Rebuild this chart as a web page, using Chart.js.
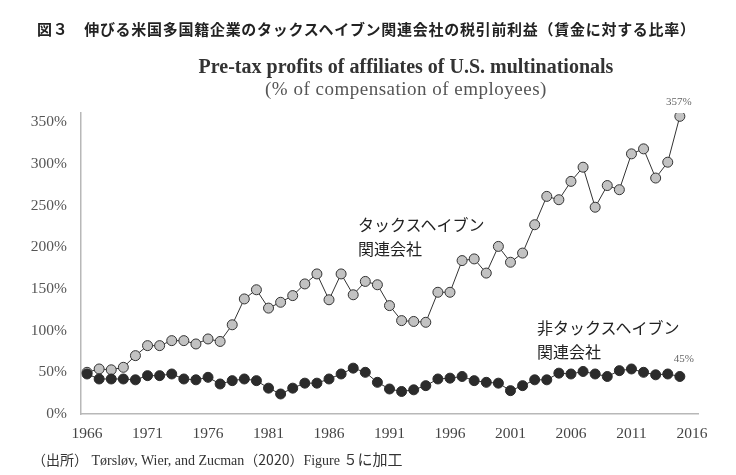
<!DOCTYPE html>
<html>
<head>
<meta charset="utf-8">
<script src="https://cdn.jsdelivr.net/npm/chart.js@4"></script>
<style>
  html, body { margin:0; padding:0; background:#fff; }
  #wrap { position:relative; width:736px; height:475px; overflow:hidden; }
  canvas { position:absolute; left:0; top:0; }
  .t { position:absolute; white-space:nowrap; }
  #hdr { left:37px; top:18px; font:bold 15px "Noto Sans CJK JP"; color:#222; letter-spacing:0.72px; }
  #ttl { left:156px; width:500px; top:55px; text-align:center; font:bold 20px "Liberation Serif"; color:#333; }
  #sub { left:156px; width:500px; top:78px; text-align:center; font:19px "Liberation Serif"; color:#555; letter-spacing:0.5px; }
  .lab { font:16px "Noto Sans CJK JP"; color:#222; line-height:24px; }
  #lab1 { left:358px; top:212px; }
  #lab2 { left:537px; top:315px; }
  #src { left:32px; top:448px; font:14px "Liberation Serif", "Noto Sans CJK JP"; color:#333; }
  #src .k { font-family:"Noto Sans CJK JP"; }
</style>
</head>
<body>
<div id="wrap">
  <canvas id="c" width="736" height="475"></canvas>
  <div class="t" id="hdr">図３　伸びる米国多国籍企業のタックスヘイブン関連会社の税引前利益（賃金に対する比率）</div>
  <div class="t" id="ttl">Pre-tax profits of affiliates of U.S. multinationals</div>
  <div class="t" id="sub">(% of compensation of employees)</div>
  <div class="t lab" id="lab1">タックスヘイブン<br>関連会社</div>
  <div class="t lab" id="lab2">非タックスヘイブン<br>関連会社</div>
  <div class="t" id="src"><span class="k">（出所）</span> Tørsløv, Wier, and Zucman<span class="k">（2020）</span>Figure ５<span class="k" style="font-size:15px">に加工</span></div>
</div>
<script>
const years = [1966,1967,1968,1969,1970,1971,1972,1973,1974,1975,1976,1977,1978,1979,1980,1981,1982,1983,1984,1985,1986,1987,1988,1989,1990,1991,1992,1993,1994,1995,1996,1997,1998,1999,2000,2001,2002,2003,2004,2005,2006,2007,2008,2009,2010,2011,2012,2013,2014,2015];
const havenValues = [50,54,53,56,70,82,82,88,88,84,90,87,107,138,149,127,134,142,156,168,137,168,143,159,155,130,112,111,110,146,146,184,186,169,201,182,193,227,261,257,279,296,248,274,269,312,318,283,302,357];
const nonHavenValues = [48,42,42,42,41,46,46,48,42,41,44,36,40,42,40,31,24,31,37,37,42,48,55,50,38,30,27,29,34,42,43,45,40,38,37,28,34,41,41,49,48,51,48,45,52,54,50,47,48,45];
const xTickValues = [1966,1971,1976,1981,1986,1991,1996,2001,2006,2011,2016];
const xTickLabels = ['1966','1971','1976','1981','1986','1991','1996','2001','2006','2011','2016'];
const yTickValues = [0,50,100,150,200,250,300,350];
const yTickLabels = ['0%','50%','100%','150%','200%','250%','300%','350%'];
const endLabels = ['357%','45%'];

const toXY = vals => years.map((y,i)=>({x:y, y:vals[i]}));

const endLabelPlugin = {
  id:'endLabels',
  afterDatasetsDraw(chart){
    const ctx = chart.ctx;
    ctx.save();
    ctx.font = '11px "Liberation Serif"';
    ctx.fillStyle = '#666';
    ctx.textAlign = 'center';
    ctx.textBaseline = 'middle';
    const offs = [[-1,-14],[4,-17]];
    chart.data.datasets.forEach((ds,di)=>{
      const meta = chart.getDatasetMeta(di);
      const last = meta.data[meta.data.length-1];
      const k = ds.labelIndex;
      ctx.fillText(endLabels[k], last.x + offs[k][0], last.y + offs[k][1]);
    });
    ctx.restore();
  }
};

new Chart(document.getElementById('c'), {
  type:'line',
  data:{
    datasets:[
      {
        label:'非タックスヘイブン関連会社',
        data: toXY(nonHavenValues),
        labelIndex:1,
        order:1,
        borderColor:'#333',
        borderWidth:1,
        pointRadius:5,
        pointBorderWidth:1,
        pointBackgroundColor:'#2b2b2b',
        pointBorderColor:'#2b2b2b',
        tension:0
      },
      {
        label:'タックスヘイブン関連会社',
        data: toXY(havenValues),
        labelIndex:0,
        order:2,
        borderColor:'#333',
        borderWidth:1,
        pointRadius:5,
        pointBorderWidth:1,
        pointBackgroundColor:'#c2c2c2',
        pointBorderColor:'#333',
        tension:0
      }
    ]
  },
  options:{
    responsive:false,
    animation:false,
    layout:{ padding:{ left:0, right:38, top:113, bottom:0 } },
    plugins:{ legend:{display:false}, tooltip:{enabled:false}, title:{display:false} },
    scales:{
      x:{
        type:'linear',
        min:1965.5, max:2016.5,
        grid:{ display:false, drawTicks:false },
        border:{ display:true, color:'#b8b8b8', width:1.5 },
        afterBuildTicks(s){ s.ticks = xTickValues.map(v=>({value:v})); },
        afterFit(s){ s.height = 61; },
        ticks:{
          autoSkip:false, maxRotation:0, padding:11,
          color:'#444',
          font:{ family:'Liberation Serif', size:15.5 },
          callback:(v)=>{ const i = xTickValues.indexOf(v); return i>=0 ? xTickLabels[i] : ''; }
        }
      },
      y:{
        type:'linear',
        min:0, max:361,
        grid:{ display:false, drawTicks:false },
        border:{ display:true, color:'#b8b8b8', width:1.5 },
        afterBuildTicks(s){ s.ticks = yTickValues.map(v=>({value:v})); },
        afterFit(s){ s.width = 81; },
        ticks:{
          autoSkip:false, padding:14,
          color:'#555',
          font:{ family:'Liberation Serif', size:15.5 },
          callback:(v)=>{ const i = yTickValues.indexOf(v); return i>=0 ? yTickLabels[i] : ''; }
        }
      }
    }
  },
  plugins:[endLabelPlugin]
});
</script>
</body>
</html>
